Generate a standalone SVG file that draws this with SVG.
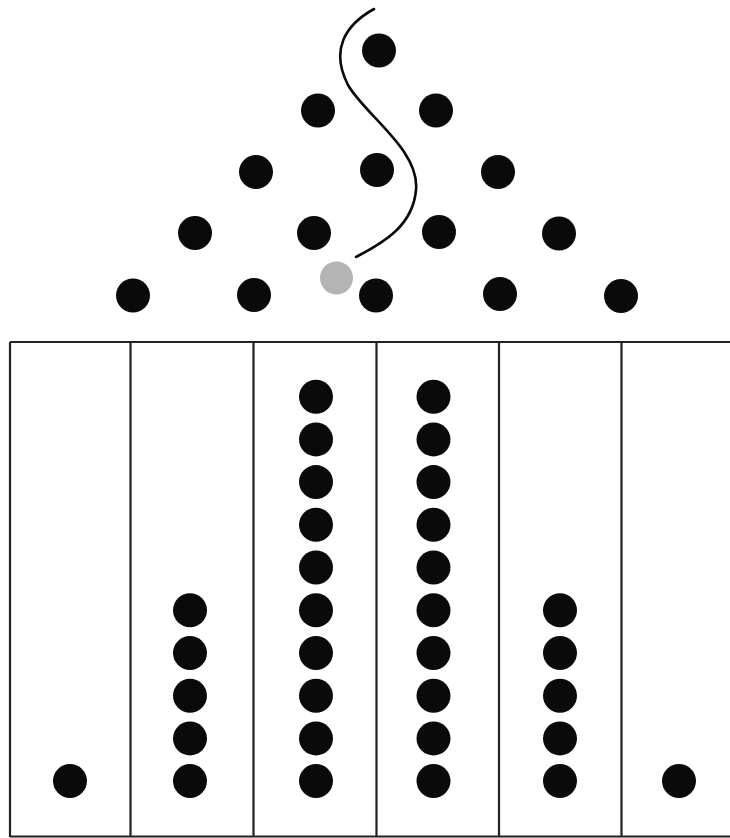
<svg xmlns="http://www.w3.org/2000/svg" width="730" height="838" viewBox="0 0 730 838">
<style>
.peg{fill:#0a0a0a}
.ball{fill:#0a0a0a}
.gray{fill:#b4b4b4}
.wall{stroke:#222;stroke-width:2.2;fill:none}
.path{stroke:#0a0a0a;stroke-width:2.6;fill:none;stroke-linecap:round}
</style>
<rect width="730" height="838" fill="#fff"/>
<g id="pegs">
<circle class="peg" cx="379" cy="50.5" r="17"/>
<circle class="peg" cx="318" cy="110.5" r="17"/>
<circle class="peg" cx="436" cy="110.5" r="17"/>
<circle class="peg" cx="256" cy="172" r="17"/>
<circle class="peg" cx="377" cy="170" r="17"/>
<circle class="peg" cx="498" cy="172" r="17"/>
<circle class="peg" cx="195" cy="233" r="17"/>
<circle class="peg" cx="314" cy="233" r="17"/>
<circle class="peg" cx="439" cy="232" r="17"/>
<circle class="peg" cx="559" cy="233.5" r="17"/>
<circle class="peg" cx="133" cy="295.5" r="17"/>
<circle class="peg" cx="254" cy="295" r="17"/>
<circle class="peg" cx="376" cy="295.5" r="17"/>
<circle class="peg" cx="500" cy="294" r="17"/>
<circle class="peg" cx="621" cy="296" r="17"/>
</g>
<g id="falling-ball">
<circle class="gray" cx="336.5" cy="278" r="16.5"/>
</g>
<g id="connectors">
<path class="path" d="M374,9 C345,25 330,50 348,85 C365,115 420,150 416,190 C413,225 385,242 356,257"/>
</g>
<g id="bins">
<path class="wall" d="M10,342 H730 M10,342 V837 M130.5,342 V837 M253.5,342 V837 M376.5,342 V837 M499,342 V837 M621.5,342 V837 M10,836.5 H730"/>
</g>
<g id="bin1"><circle class="ball" cx="70" cy="781" r="17"/></g>
<g id="bin2">
<circle class="ball" cx="190" cy="610.3" r="17"/>
<circle class="ball" cx="190" cy="653" r="17"/>
<circle class="ball" cx="190" cy="695.7" r="17"/>
<circle class="ball" cx="190" cy="738.4" r="17"/>
<circle class="ball" cx="190" cy="781" r="17"/>
</g>
<g id="bin3">
<circle class="ball" cx="316" cy="396.7" r="17"/>
<circle class="ball" cx="316" cy="439.4" r="17"/>
<circle class="ball" cx="316" cy="482.1" r="17"/>
<circle class="ball" cx="316" cy="524.8" r="17"/>
<circle class="ball" cx="316" cy="567.5" r="17"/>
<circle class="ball" cx="316" cy="610.3" r="17"/>
<circle class="ball" cx="316" cy="653" r="17"/>
<circle class="ball" cx="316" cy="695.7" r="17"/>
<circle class="ball" cx="316" cy="738.4" r="17"/>
<circle class="ball" cx="316" cy="781" r="17"/>
</g>
<g id="bin4">
<circle class="ball" cx="433.5" cy="396.7" r="17"/>
<circle class="ball" cx="433.5" cy="439.4" r="17"/>
<circle class="ball" cx="433.5" cy="482.1" r="17"/>
<circle class="ball" cx="433.5" cy="524.8" r="17"/>
<circle class="ball" cx="433.5" cy="567.5" r="17"/>
<circle class="ball" cx="433.5" cy="610.3" r="17"/>
<circle class="ball" cx="433.5" cy="653" r="17"/>
<circle class="ball" cx="433.5" cy="695.7" r="17"/>
<circle class="ball" cx="433.5" cy="738.4" r="17"/>
<circle class="ball" cx="433.5" cy="781" r="17"/>
</g>
<g id="bin5">
<circle class="ball" cx="560" cy="610.3" r="17"/>
<circle class="ball" cx="560" cy="653" r="17"/>
<circle class="ball" cx="560" cy="695.7" r="17"/>
<circle class="ball" cx="560" cy="738.4" r="17"/>
<circle class="ball" cx="560" cy="781" r="17"/>
</g>
<g id="bin6"><circle class="ball" cx="679" cy="781" r="17"/></g>
</svg>
